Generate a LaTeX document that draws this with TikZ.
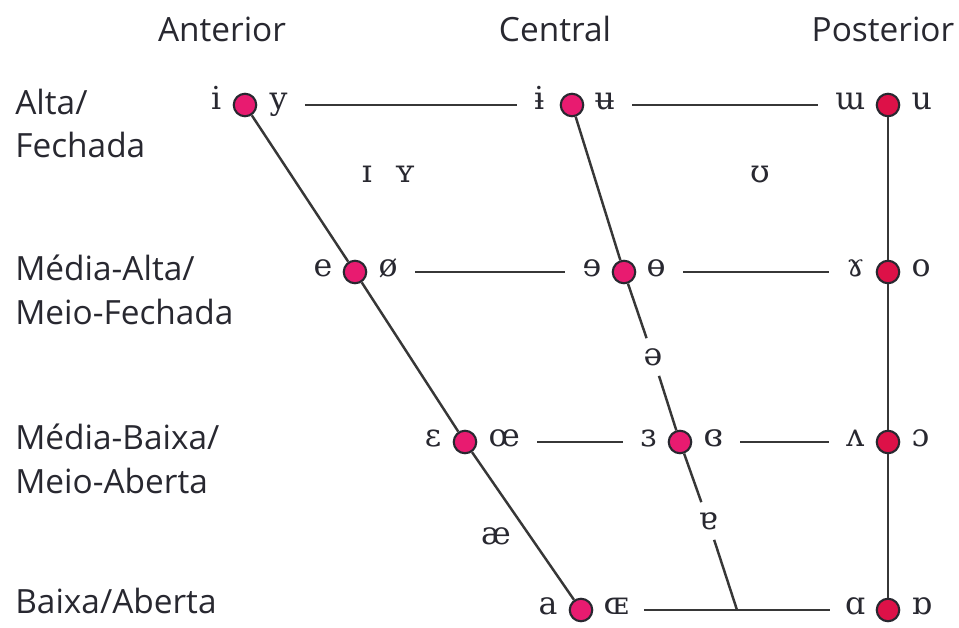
\documentclass[tikz,border=0pt]{standalone}
\usepackage{fontspec}
\setmainfont{Open Sans}
\newfontfamily\ipafont{DejaVu Serif}
\usetikzlibrary{positioning}
\definecolor{frontpink}{RGB}{232,27,112}
\definecolor{backred}{RGB}{221,17,72}
\definecolor{ink}{RGB}{40,40,48}
\definecolor{wire}{RGB}{55,55,55}
\begin{document}
\begin{tikzpicture}[x=0.02cm,y=-0.02cm]
	\tikzstyle{vowel} =[circle, draw=ink, line width=1.2pt, fill=frontpink, minimum size=0.45cm, inner sep=0pt];
	\tikzstyle{backvowel} =[vowel, fill=backred];
	\tikzstyle{sym} =[font=\ipafont\fontsize{18}{18}\selectfont, text=ink, inner sep=0pt, text height=4.8pt, text depth=0pt];
	\tikzstyle{gapsym} =[font=\ipafont\fontsize{18}{18}\selectfont, text=ink, inner sep=0pt, minimum height=0.74cm, minimum width=0.5cm];
	\tikzstyle{colhead} =[font=\fontsize{19}{25}\selectfont, text=ink, anchor=base, inner sep=0pt];
	\tikzstyle{rowlab} =[font=\fontsize{19}{25}\selectfont, text=ink, align=left, anchor=base west, inner sep=0pt];
	\tikzstyle{line} =[draw=wire, line width=1.4pt];
	\tikzstyle{gapline} =[line, shorten <=0.34cm, shorten >=0.34cm];
	\useasboundingbox (0,0) rectangle (959,628);

	\node[colhead] (ant) at (222,42) {Anterior};
	\node[colhead] (cen) at (555,42) {Central};
	\node[colhead] (post) at (883,42) {Posterior};

	\node[rowlab] (high) at (15,158) {Alta/\\Fechada};
	\node[rowlab] (midhigh) at (15,324) {Média-Alta/\\Meio-Fechada};
	\node[rowlab] (midlow) at (15,493) {Média-Baixa/\\Meio-Aberta};
	\node[rowlab] (low) at (15,613) {Baixa/Aberta};

	% vowel points
	\node[vowel] (fh) at (245,105) {};
	\node[vowel] (ch) at (572,105) {};
	\node[backvowel] (bh) at (888,105) {};
	\node[vowel] (fmh) at (355,272) {};
	\node[vowel] (cmh) at (624,272) {};
	\node[backvowel] (bmh) at (888,272) {};
	\node[vowel] (fml) at (465,442) {};
	\node[vowel] (cml) at (680,442) {};
	\node[backvowel] (bml) at (888,442) {};
	\node[vowel] (fl) at (581,610) {};
	\node[backvowel] (bl) at (888,610) {};
	\coordinate (join) at (737,610);

	\node[sym, left=0.22cm of fh] (i) {i};
	\node[sym, right=0.24cm of fh] (y) {y};
	\node[sym, left=0.3cm of ch] (ibar) {ɨ};
	\node[sym, right=0.2cm of ch] (ubar) {ʉ};
	\node[sym, left=0.2cm of bh] (turnm) {ɯ};
	\node[sym, right=0.22cm of bh] (u) {u};
	\node[sym, left=0.2cm of fmh] (e) {e};
	\node[sym, right=0.22cm of fmh] (oslash) {ø};
	\node[sym, left=0.2cm of cmh] (reve) {ɘ};
	\node[sym, right=0.2cm of cmh] (obar) {ɵ};
	\node[sym, left=0.22cm of bmh] (ramshorn) {ɤ};
	\node[sym, right=0.22cm of bmh] (o) {o};
	\node[sym, left=0.22cm of fml] (eps) {ɛ};
	\node[sym, right=0.22cm of fml] (oe) {œ};
	\node[sym, left=0.22cm of cml] (reveps) {ɜ};
	\node[sym, right=0.22cm of cml] (closedeps) {ɞ};
	\node[sym, left=0.22cm of bml] (turnv) {ʌ};
	\node[sym, right=0.22cm of bml] (openo) {ɔ};
	\node[sym, left=0.22cm of fl] (a) {a};
	\node[sym, right=0.2cm of fl] (capoe) {ɶ};
	\node[sym, left=0.2cm of bl] (scripta) {ɑ};
	\node[sym, right=0.22cm of bl] (turnscripta) {ɒ};

	\node[sym] (smalli) at (367,178) {ɪ};
	\node[sym] (smally) at (405,178) {ʏ};
	\node[sym] (upsilon) at (760,178) {ʊ};
	\node[sym] (ash) at (496,540) {æ};
	\node[gapsym] (schwa) at (653,357) {ə};
	\node[gapsym] (turna) at (708,521) {ɐ};

	\draw[line] (fh) -- (fmh) -- (fml) -- (fl);
	\draw[line] (ch) -- (cmh) -- (schwa) -- (cml) -- (turna) -- (join);
	\draw[line] (bh) -- (bmh) -- (bml) -- (bl);

	\draw[gapline] (y) -- (ibar);
	\draw[gapline] (ubar) -- (turnm);
	\draw[gapline] (oslash) -- (reve);
	\draw[gapline] (obar) -- (ramshorn);
	\draw[gapline] (oe) -- (reveps);
	\draw[gapline] (closedeps) -- (turnv);
	\draw[line, shorten <=0.3cm] (capoe) -- (join);
	\draw[line, shorten >=0.3cm] (join) -- (scripta);
\end{tikzpicture}
\end{document}
